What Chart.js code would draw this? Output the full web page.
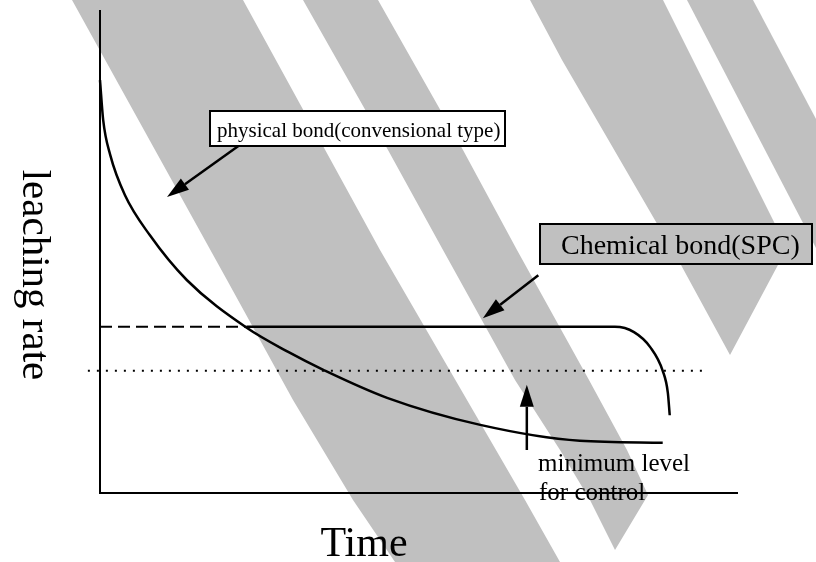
<!DOCTYPE html>
<html>
<head>
<meta charset="utf-8">
<script src="https://cdn.jsdelivr.net/npm/chart.js@4.4.1/dist/chart.umd.min.js"></script>
<style>
  html, body { margin: 0; padding: 0; background: #fff; }
</style>
</head>
<body>
<canvas id="myChart" width="816" height="562"></canvas>
<script>
// no ticks in the picture, so both axes just run 0..100
const physicalX = [0, 0.5, 1.6, 3.9, 7.8, 13.6, 23.0, 29.5, 35.0, 45.0, 59.6, 75.2, 88.2];
const physicalY = [85.5, 77.2, 70.0, 61.7, 53.4, 44.1, 34.2, 29.2, 25.5, 19.7, 14.1, 10.8, 10.4];

const chemicalX = [23.0, 50, 80.7, 83.7, 86.3, 88.2, 89.0, 89.3];
const chemicalY = [34.4, 34.4, 34.4, 33.3, 30.1, 25.3, 20.8, 16.1];

const dashedX = [0, 23.0];
const dashedY = [34.4, 34.4];

const minimumX = [-1.9, 94.8];
const minimumY = [25.3, 25.3];

// arrows as [fromX, fromY, toX, toY]
const arrows = [
  [22.4, 72.5, 10.5, 61.3],
  [68.7, 45.1, 60.0, 36.2],
  [66.9, 8.9, 66.9, 22.4]
];

const xTitle = 'Time';
const yTitle = 'leaching rate';
const physicalLabel = 'physical bond(convensional type)';
const chemicalLabel = 'Chemical bond(SPC)';
const minimumLabel = ['minimum level', 'for control'];

function toPoints(xs, ys) {
  return xs.map((x, i) => ({ x: x, y: ys[i] }));
}

const GREY = '#c0c0c0';
const SERIF = '"Liberation Serif", "DejaVu Serif", serif';

// the scanned page has broad grey diagonal bands behind everything
const stripes = [
  [[72,0],[243,0],[380,250],[525,500],[560,562],[395,562],[353,500],[293,400],[227,280]],
  [[303,0],[378,0],[463,150],[517,250],[589,380],[627,450],[648,495],[615,550],[590,500],[560,450],[515,380],[443,250],[388,150]],
  [[530,0],[663,0],[787,248],[730,355],[681,265],[562,60]],
  [[687,0],[753,0],[816,119],[816,248]]
];

function drawArrow(ctx, x1, y1, x2, y2) {
  const ang = Math.atan2(y2 - y1, x2 - x1);
  const len = 22, half = 7;
  const bx = x2 - len * Math.cos(ang), by = y2 - len * Math.sin(ang);
  ctx.beginPath();
  ctx.moveTo(x1, y1);
  ctx.lineTo(bx, by);
  ctx.lineWidth = 2.5;
  ctx.stroke();
  ctx.beginPath();
  ctx.moveTo(x2, y2);
  ctx.lineTo(bx + half * Math.sin(ang), by - half * Math.cos(ang));
  ctx.lineTo(bx - half * Math.sin(ang), by + half * Math.cos(ang));
  ctx.closePath();
  ctx.fill();
}

const sketchPlugin = {
  id: 'sketch',
  beforeDraw(chart) {
    const ctx = chart.ctx;
    ctx.save();
    ctx.fillStyle = '#fff';
    ctx.fillRect(0, 0, chart.width, chart.height);
    ctx.fillStyle = GREY;
    stripes.forEach(poly => {
      ctx.beginPath();
      poly.forEach((p, i) => i ? ctx.lineTo(p[0], p[1]) : ctx.moveTo(p[0], p[1]));
      ctx.closePath();
      ctx.fill();
    });
    ctx.restore();
  },
  beforeDatasetsDraw(chart) {
    const ctx = chart.ctx;
    const xs = chart.scales.x, ys = chart.scales.y;
    const x0 = xs.getPixelForValue(0), y0 = ys.getPixelForValue(0);
    ctx.save();
    ctx.strokeStyle = '#000';
    ctx.lineWidth = 2;
    ctx.beginPath();
    ctx.moveTo(x0, ys.getPixelForValue(100));
    ctx.lineTo(x0, y0 + 1);
    ctx.moveTo(x0, y0);
    ctx.lineTo(xs.getPixelForValue(100), y0);
    ctx.stroke();
    ctx.restore();
  },
  afterDraw(chart) {
    const ctx = chart.ctx;
    const xs = chart.scales.x, ys = chart.scales.y;
    ctx.save();
    ctx.strokeStyle = '#000';
    ctx.fillStyle = '#000';
    arrows.forEach(a => drawArrow(ctx,
      xs.getPixelForValue(a[0]), ys.getPixelForValue(a[1]),
      xs.getPixelForValue(a[2]), ys.getPixelForValue(a[3])));

    // label boxes
    ctx.lineWidth = 2;
    ctx.fillStyle = '#fff';
    ctx.fillRect(210, 111, 295, 35);
    ctx.strokeRect(210, 111, 295, 35);
    ctx.fillStyle = GREY;
    ctx.fillRect(540, 224, 272, 40);
    ctx.strokeRect(540, 224, 272, 40);

    ctx.fillStyle = '#000';
    ctx.textBaseline = 'alphabetic';
    ctx.font = '21px ' + SERIF;
    ctx.fillText(physicalLabel, 217, 137);
    ctx.font = '28px ' + SERIF;
    ctx.fillText(chemicalLabel, 561, 254);
    ctx.font = '25px ' + SERIF;
    ctx.fillText(minimumLabel[0], 538, 471);
    ctx.fillText(minimumLabel[1], 539, 500);

    ctx.font = '42px ' + SERIF;
    ctx.textAlign = 'center';
    ctx.fillText(xTitle, 364, 556);

    ctx.translate(23, 275);
    ctx.rotate(Math.PI / 2);
    ctx.font = '41px ' + SERIF;
    ctx.fillText(yTitle, 0, 0);
    ctx.restore();
  }
};

const data = {
  datasets: [
    {
      label: 'physical bond',
      data: toPoints(physicalX, physicalY),
      borderColor: '#000',
      borderWidth: 2.5,
      cubicInterpolationMode: 'monotone'
    },
    {
      label: 'chemical bond',
      data: toPoints(chemicalX, chemicalY),
      borderColor: '#000',
      borderWidth: 2.5,
      cubicInterpolationMode: 'monotone'
    },
    {
      label: 'chemical bond (start)',
      data: toPoints(dashedX, dashedY),
      borderColor: '#000',
      borderWidth: 2,
      borderDash: [12, 6]
    },
    {
      label: 'minimum level for control',
      data: toPoints(minimumX, minimumY),
      borderColor: '#000',
      borderWidth: 2,
      borderDash: [2, 7]
    }
  ]
};

const config = {
  type: 'line',
  data: data,
  plugins: [sketchPlugin],
  options: {
    responsive: false,
    animation: false,
    layout: { padding: { left: 100, right: 78, top: 10, bottom: 69 } },
    elements: { point: { radius: 0 }, line: { fill: false } },
    datasets: { line: { clip: false } },
    plugins: { legend: { display: false }, tooltip: { enabled: false } },
    scales: {
      x: { type: 'linear', min: 0, max: 100, display: false },
      y: { type: 'linear', min: 0, max: 100, display: false }
    }
  }
};

let myChart = new Chart(document.getElementById('myChart'), config);
</script>
</body>
</html>
